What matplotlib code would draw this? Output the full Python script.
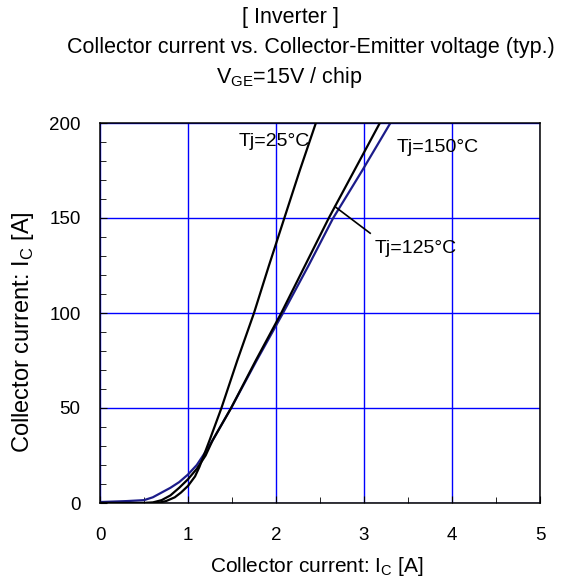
import numpy as np
import matplotlib.pyplot as plt
from matplotlib.ticker import MultipleLocator

plt.rcParams['font.family'] = ['Liberation Sans', 'DejaVu Sans']

# Tj = 25 degC
v_25 = [0, 0.65, 0.75, 0.85, 0.92, 1.0, 1.08, 1.13, 1.245, 1.38, 1.56, 1.75, 1.92, 2.095, 2.27, 2.453]
i_25 = [0, 0, 1, 3, 5.5, 9, 14, 19, 33, 50, 75, 100, 125, 150, 175, 200]

# Tj = 125 degC
v_125 = [0, 0.5, 0.6, 0.7, 0.8, 0.9, 1.0, 1.1, 1.2, 1.28, 1.49, 1.77, 2.06, 2.33, 2.60, 2.89, 3.18]
i_125 = [0, 0, 0.3, 1.5, 4, 8, 12.5, 18, 25, 33, 50, 75, 100, 125, 150, 175, 200]

# Tj = 150 degC
v_150 = [0, 0.3, 0.5, 0.6, 0.7, 0.8, 0.9, 1.0, 1.1, 1.2, 1.28, 1.49, 1.78, 2.08, 2.37, 2.65, 2.98, 3.30]
i_150 = [0.5, 1, 1.5, 3, 5.5, 8, 11, 15, 20, 27, 33, 50, 75, 100, 125, 150, 175, 200]

fig = plt.figure(figsize=(5.69, 5.88), dpi=100)
W, H = 569, 588
ax = fig.add_axes([100 / W, 1 - 503 / H, 440 / W, 380 / H])

ax.grid(True, which='major', color='#0000ff', lw=1.0)
ax.set_axisbelow(True)

ax.plot(v_150, i_150, color='#1c1c8a', lw=1.6)
ax.plot(v_125, i_125, color='black', lw=1.6)
ax.plot(v_25, i_25, color='black', lw=1.6)

ax.set_xlim(0, 5)
ax.set_ylim(0, 200)
ax.xaxis.set_major_locator(MultipleLocator(1))
ax.xaxis.set_minor_locator(MultipleLocator(0.5))
ax.yaxis.set_major_locator(MultipleLocator(50))
ax.yaxis.set_minor_locator(MultipleLocator(10))
ax.tick_params(which='both', direction='in', top=False, right=False, labelsize=13.5, pad=14)
ax.tick_params(axis='x', which='both', pad=17)
ax.tick_params(which='major', length=5)
ax.tick_params(which='minor', length=4)
for s in ax.spines.values():
  s.set_linewidth(1.1)

# curve labels
ax.text(1.57, 190, 'Tj=25°C', fontsize=14, va='center')
ax.text(3.375, 187, 'Tj=150°C', fontsize=14, va='center')
ax.text(3.125, 134, 'Tj=125°C', fontsize=14, va='center')
ax.plot([2.67, 3.07], [156, 142], color='black', lw=1.2)

# axis labels
fig.text(317 / W, 1 - 567 / H, 'Collector current: I$_\\mathregular{C}$ [A]',
         ha='center', va='center', fontsize=15)
fig.text(23 / W, 1 - 332 / H, 'Collector current: I$_\\mathregular{C}$ [A]',
         ha='center', va='center', rotation=90, fontsize=17)

# title
fig.text(290 / W, 1 - 18 / H, '[ Inverter ]', ha='center', va='center', fontsize=15.5)
fig.text(311 / W, 1 - 48 / H, 'Collector current vs. Collector-Emitter voltage (typ.)',
         ha='center', va='center', fontsize=15.5)
fig.text(289 / W, 1 - 78 / H, 'V$_\\mathregular{GE}$=15V / chip', ha='center', va='center', fontsize=15.5)

fig.savefig('out.png', dpi=100)
